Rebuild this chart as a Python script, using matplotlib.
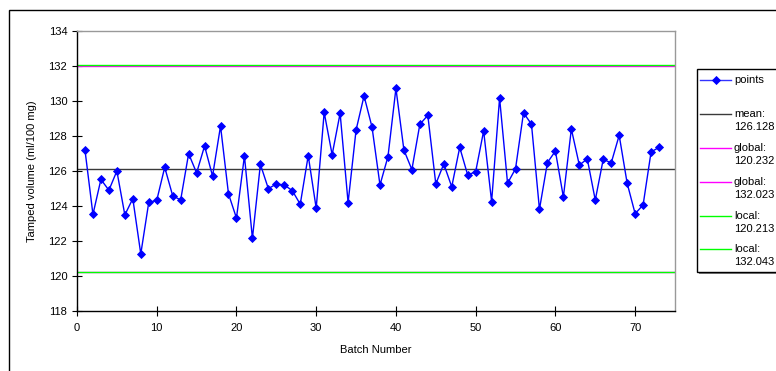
import matplotlib
matplotlib.use("Agg")
import matplotlib.pyplot as plt
from matplotlib.lines import Line2D
from matplotlib.patches import Rectangle

plt.rcParams['font.family'] = ['Liberation Sans', 'DejaVu Sans']
plt.rcParams['font.size'] = 8

batches = list(range(1, 74))
volumes = [127.2, 123.52, 125.52, 124.9, 126.0, 123.49, 124.42, 121.26, 124.21, 124.32,
           126.21, 124.59, 124.34, 126.99, 125.89, 127.43, 125.71, 128.57, 124.69, 123.31,
           126.86, 122.15, 126.38, 124.99, 125.26, 125.2, 124.88, 124.10, 126.88, 123.87,
           129.35, 126.93, 129.30, 124.19, 128.34, 130.29, 128.51, 125.2, 126.82, 130.72,
           127.2, 126.08, 128.67, 129.18, 125.26, 126.4, 125.1, 127.35, 125.77, 125.96,
           128.29, 124.25, 130.17, 125.30, 126.13, 129.33, 128.67, 123.81, 126.48, 127.14,
           124.51, 128.4, 126.34, 126.69, 124.34, 126.67, 126.46, 128.04, 125.30, 123.56,
           124.06, 127.09, 127.35]

mean_val = 126.128
global_low, global_high = 120.232, 132.023
local_low, local_high = 120.213, 132.043

ref_lines = [
    ("mean:\n126.128", mean_val, "#3a3a3a"),
    ("global:\n120.232", global_low, "#ff00ff"),
    ("global:\n132.023", global_high, "#ff00ff"),
    ("local:\n120.213", local_low, "#00ff00"),
    ("local:\n132.043", local_high, "#00ff00"),
]

W, H = 776, 371
fig = plt.figure(figsize=(W / 100, H / 100), dpi=100)
ax = fig.add_axes([77 / W, 1 - 311 / H, (675 - 77) / W, (311 - 31) / H])

for label, val, col in ref_lines:
    ax.axhline(val, color=col, lw=1.0, zorder=2)

ax.plot(batches, volumes, color="#0000ff", lw=1.0, marker="D", markersize=3.9,
        markerfacecolor="#0000ff", markeredgecolor="#0000ff", markeredgewidth=0.6, zorder=3)

ax.set_xlim(0, 75)
ax.set_ylim(118, 134)
ax.set_xticks(range(0, 80, 10))
ax.set_yticks(range(118, 135, 2))
ax.tick_params(direction="inout", length=7, width=0.8, color="black")
ax.tick_params(axis="y", pad=3.5)
ax.tick_params(axis="x", pad=5)
ax.spines["left"].set_color("black")
ax.spines["bottom"].set_color("black")
ax.spines["top"].set_color("#999999")
ax.spines["right"].set_color("#999999")
for s in ax.spines.values():
    s.set_linewidth(1.0)

ax.set_xlabel("Batch Number", labelpad=9)
ax.set_ylabel("Tamped volume (ml/100 mg)", labelpad=8)

def fx(x):
    return x / W

def fy(y):
    return 1 - y / H

# outer chart border
fig.add_artist(Rectangle((fx(9), fy(420)), fx(820) - fx(9), fy(10) - fy(420),
                         transform=fig.transFigure, fill=False, ec="black", lw=1.0))

# legend box (with slight shadow)
fig.add_artist(Rectangle((fx(699), fy(274)), fx(800) - fx(699), fy(71) - fy(274),
                         transform=fig.transFigure, fill=True, fc="#808080", ec="none", lw=0))
fig.add_artist(Rectangle((fx(697), fy(272)), fx(800) - fx(697), fy(69) - fy(272),
                         transform=fig.transFigure, fill=True, fc="white", ec="black", lw=1.0))

x0, x1, xt = 700, 731, 734
fig.add_artist(Line2D([fx(x0), fx(x1)], [fy(80), fy(80)], transform=fig.transFigure,
                      color="#3333ff", lw=1.0, marker=None))
fig.add_artist(Line2D([fx((x0 + x1) / 2)], [fy(80)], transform=fig.transFigure,
                      color="#0000ff", marker="D", markersize=3.9, markeredgewidth=0.6))
fig.text(fx(xt), fy(80), "points", va="center", ha="left")

ys = [114, 148, 182, 216, 249]
for (label, val, col), y in zip(ref_lines, ys):
    fig.add_artist(Line2D([fx(x0), fx(x1)], [fy(y), fy(y)], transform=fig.transFigure,
                          color=col, lw=1.0))
    first, second = label.split("\n")
    fig.text(fx(xt), fy(y), first, va="center", ha="left")
    fig.text(fx(xt), fy(y + 13), second, va="center", ha="left")

fig.savefig("out.png", dpi=100)
